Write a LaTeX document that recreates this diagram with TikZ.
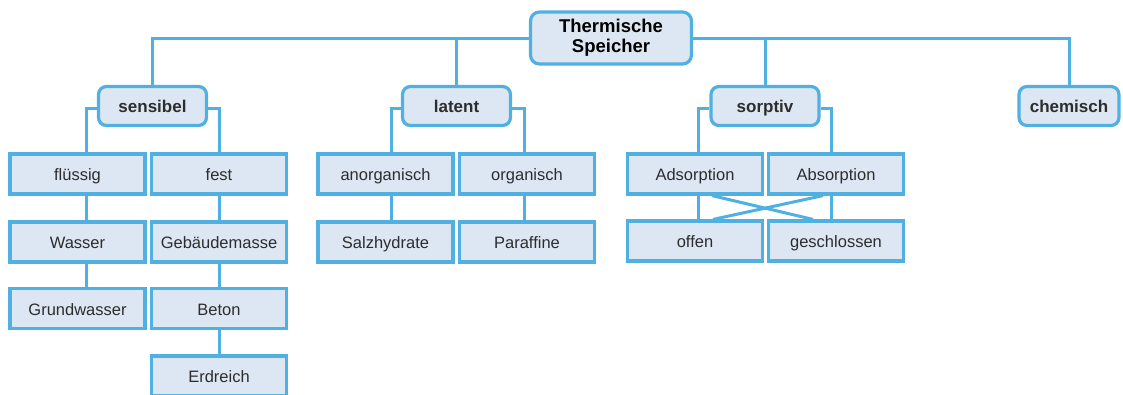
\documentclass[tikz,border=0pt]{standalone}
\usepackage{fontspec}
\setmainfont{Liberation Sans}
\usetikzlibrary{calc,backgrounds}
\definecolor{lineblue}{RGB}{80,176,226}
\definecolor{boxfill}{RGB}{221,231,243}
\definecolor{txtgray}{RGB}{45,45,45}
\begin{document}
\begin{tikzpicture}[x=1pt,y=-1pt,
  conn/.style={draw=lineblue,line width=3pt},
  rootbox/.style={draw=lineblue,fill=boxfill,line width=3.2pt,rounded corners=9pt,
    minimum width=161pt,minimum height=52pt,align=center,inner sep=0pt,
    font=\fontsize{18.5}{20}\selectfont\bfseries},
  catbox/.style={draw=lineblue,fill=boxfill,line width=3.2pt,rounded corners=8pt,
    minimum width=108pt,minimum height=39pt,inner sep=0pt,text=txtgray,
    text height=14pt,text depth=2pt,
    font=\fontsize{17}{19}\selectfont\bfseries},
  leafbox/.style={draw=lineblue,fill=boxfill,line width=3.2pt,
    minimum width=135pt,minimum height=40pt,inner sep=0pt,text=txtgray,
    text height=14.5pt,text depth=1.5pt,
    font=\fontsize{16.5}{19}\selectfont}]
\useasboundingbox (0,0) rectangle (1123,394);
\clip (0,0) rectangle (1123,394);
% nodes
\node[rootbox] (root) at (611,38) {Thermische\\Speicher};
\node[catbox] (sens) at (152.5,106) {sensibel};
\node[catbox] (lat) at (456.5,106) {latent};
\node[catbox] (sorp) at (765,106) {sorptiv};
\node[catbox,minimum width=100pt] (chem) at (1069,106) {chemisch};
% sensibel
\node[leafbox] (fl) at (77.5,174) {flüssig};
\node[leafbox] (fe) at (219,174) {fest};
\node[leafbox] (wa) at (77.5,242) {Wasser};
\node[leafbox] (gw) at (77.5,308.5) {Grundwasser};
\node[leafbox] (gb) at (219,242) {Gebäudemasse};
\node[leafbox] (be) at (219,308.5) {Beton};
\node[leafbox] (er) at (219,376) {Erdreich};
% latent
\node[leafbox] (an) at (385.5,174) {anorganisch};
\node[leafbox] (or) at (527,174) {organisch};
\node[leafbox] (sa) at (385.5,242) {Salzhydrate};
\node[leafbox] (pa) at (527,242) {Paraffine};
% sorptiv
\node[leafbox] (ad) at (695,174) {Adsorption};
\node[leafbox] (ab) at (836,174) {Absorption};
\node[leafbox] (of) at (695,241) {offen};
\node[leafbox] (ge) at (836,241) {geschlossen};
% connectors
\begin{scope}[on background layer]
\draw[conn] (root.west) -| (sens.north);
\draw[conn] (root.west) -| (lat.north);
\draw[conn] (root.east) -| (sorp.north);
\draw[conn] (root.east) -| (chem.north);
% sensibel
\draw[conn] ([yshift=-2pt]sens.west) -| ([xshift=8.5pt]fl.north);
\draw[conn] ([yshift=-2pt]sens.east) -| (fe.north);
\draw[conn] ([xshift=8.5pt]fl.south) -- ([xshift=8.5pt]wa.north);
\draw[conn] ([xshift=8.5pt]wa.south) -- ([xshift=8.5pt]gw.north);
\draw[conn] (fe.south) -- (gb.north);
\draw[conn] (gb.south) -- (be.north);
\draw[conn] (be.south) -- (er.north);
% latent
\draw[conn] ([yshift=-2pt]lat.west) -| ([xshift=5.5pt]an.north);
\draw[conn] ([yshift=-2pt]lat.east) -| ([xshift=-3pt]or.north);
\draw[conn] ([xshift=5.5pt]an.south) -- ([xshift=5.5pt]sa.north);
\draw[conn] ([xshift=-3pt]or.south) -- ([xshift=-3pt]pa.north);
% sorptiv
\draw[conn] ([yshift=-2pt]sorp.west) -| ([xshift=3pt]ad.north);
\draw[conn] ([yshift=-2pt]sorp.east) -| ([xshift=-5pt]ab.north);
\draw[conn] ([xshift=3pt]ad.south) -- ([xshift=3pt]of.north);
\draw[conn] ([xshift=-5pt]ab.south) -- ([xshift=-5pt]ge.north);
\draw[conn] ([xshift=17pt]ad.south) -- ([xshift=-23pt]ge.north);
\draw[conn] ([xshift=-13pt]ab.south) -- ([xshift=18pt]of.north);
\end{scope}
\end{tikzpicture}
\end{document}
